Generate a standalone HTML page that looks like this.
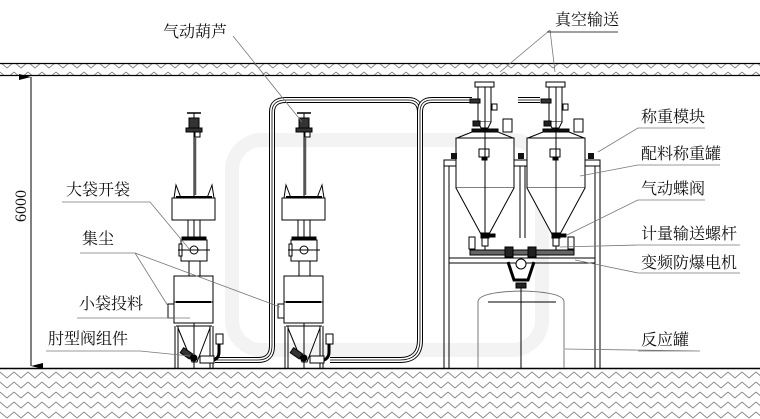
<!DOCTYPE html>
<html><head><meta charset="utf-8"><style>
html,body{margin:0;padding:0;background:#fff;}
svg{display:block}
text{font-family:"Liberation Serif","Noto Serif CJK SC",serif;font-size:16px;fill:#111}
</style></head><body>
<svg width="760" height="419" viewBox="0 0 760 419" xmlns="http://www.w3.org/2000/svg">
<defs>
<pattern id="zz" width="14" height="10" patternUnits="userSpaceOnUse">
<path d="M0 2 L7 8 L14 2" fill="none" stroke="#888" stroke-width="0.9"/>
</pattern>
<marker id="ar" markerWidth="8" markerHeight="12" refX="4" refY="12" orient="auto-start-reverse" markerUnits="userSpaceOnUse">
<path d="M1 0 L4 12 L7 0 Z" fill="#000"/>
</marker>
</defs>
<!-- watermark -->
<g fill="none" stroke="#f3f3f3" stroke-width="14">
<rect x="232" y="140" width="310" height="210" rx="30"/>
</g>
<!-- ceiling band -->
<rect x="0" y="64" width="760" height="11" fill="url(#zz)"/>
<line x1="0" y1="63.5" x2="760" y2="63.5" stroke="#000" stroke-width="1.2"/>
<line x1="0" y1="75.5" x2="760" y2="75.5" stroke="#000" stroke-width="1.2"/>
<!-- ground -->
<rect x="0" y="369" width="760" height="50" fill="url(#zz)"/>
<line x1="0" y1="368.5" x2="760" y2="368.5" stroke="#000" stroke-width="1.4"/>
<!-- dimension -->
<line x1="31" y1="77" x2="31" y2="366" stroke="#000" marker-start="url(#ar)" marker-end="url(#ar)"/>
<text transform="translate(26,222) rotate(-90)" font-size="15">6000</text>

<!-- pipes -->
<g fill="none">
<path id="p1" d="M215 360 H258 Q272 360 272 346 V112 Q272 100 286 100 H408 Q420 100 420 112 V340 Q420 360 400 360 H330"/>
<path id="p2" d="M420 112 Q420 100 432 100 H472"/>
<path id="p3" d="M518 100 H540"/>
</g>
<g fill="none" stroke-linejoin="round">
<use href="#p1" stroke="#000" stroke-width="6"/><use href="#p1" stroke="#fff" stroke-width="4"/><use href="#p1" stroke="#000" stroke-width="0.8"/>
<use href="#p2" stroke="#000" stroke-width="6"/><use href="#p2" stroke="#fff" stroke-width="4"/><use href="#p2" stroke="#000" stroke-width="0.8"/>
<use href="#p3" stroke="#000" stroke-width="6"/><use href="#p3" stroke="#fff" stroke-width="4"/><use href="#p3" stroke="#000" stroke-width="0.8"/>
</g>

<!-- bag station unit -->
<g id="u1" stroke="#000" stroke-width="1" fill="#fff">
<line x1="187" y1="113" x2="201" y2="113" stroke-width="1.5"/>
<line x1="194" y1="113" x2="194" y2="118"/>
<rect x="189" y="118" width="10" height="10" fill="#333"/>
<rect x="186" y="128" width="16" height="4" fill="#333"/>
<rect x="195" y="132" width="5" height="5"/>
<line x1="194" y1="132" x2="194" y2="368" stroke-width="1"/>
<line x1="195.5" y1="137" x2="195.5" y2="195" stroke-width="1.5" stroke="#555"/>
<path d="M174 198 L176 185 L181 198 M185 198 H203 M207 198 L212 185 L214 198" fill="none"/>
<line x1="176" y1="197" x2="212" y2="197" stroke-width="2"/>
<rect x="172" y="198" width="43" height="22"/>
<line x1="188" y1="220" x2="188" y2="238"/><line x1="200" y1="220" x2="200" y2="238"/>
<rect x="182" y="237" width="24" height="3" fill="#000"/>
<rect x="181" y="240" width="26" height="21"/>
<rect x="179" y="244" width="3" height="12"/>
<circle cx="194" cy="250" r="4"/>
<line x1="178" y1="250" x2="210" y2="250"/>
<rect x="189" y="261" width="11" height="15"/>
<rect x="174" y="276" width="39" height="26"/>
<rect x="174" y="302" width="39" height="21"/>
<line x1="176" y1="302" x2="211" y2="302" stroke-width="2"/>
<rect x="168" y="304" width="6" height="14"/>
<line x1="175" y1="326" x2="175" y2="368"/><line x1="178" y1="326" x2="178" y2="368"/>
<line x1="210" y1="326" x2="210" y2="368"/><line x1="213" y1="326" x2="213" y2="368"/>
<path d="M176 326 H212 M178 328 L192 362 H197 L210 328" fill="none"/>
<rect x="181" y="350" width="11" height="6" fill="#333" transform="rotate(35 186 353)"/>
<circle cx="194" cy="358" r="3" fill="#000"/>
<rect x="216" y="334" width="7" height="10"/>
<path d="M219 344 V352 Q219 358 214 360" fill="none" stroke-width="3"/>
<rect x="200" y="356" width="14" height="7"/>
</g>
<use href="#u1" x="110"/>

<!-- right frame -->
<g stroke="#000" fill="none" stroke-width="1">
<line x1="444" y1="160" x2="444" y2="368"/><line x1="449" y1="166" x2="449" y2="368"/>
<line x1="595" y1="166" x2="595" y2="368"/><line x1="600" y1="160" x2="600" y2="368"/>
<rect x="444" y="160" width="156" height="6"/>
<rect x="449" y="258" width="146" height="5"/>
<line x1="520" y1="166" x2="520" y2="238"/><line x1="525" y1="166" x2="525" y2="238"/>
</g>
<!-- tanks -->
<g id="t1" stroke="#000" stroke-width="1" fill="#fff">
<rect x="475" y="82" width="19" height="5"/>
<rect x="478" y="87" width="13" height="35"/>
<rect x="470" y="99" width="10" height="4" fill="#333"/>
<rect x="492" y="104" width="5" height="6"/>
<path d="M478 122 L481 128 H488 L491 122"/>
<rect x="473" y="121" width="7" height="5" fill="#222"/>
<rect x="472" y="129" width="26" height="4" fill="#111"/>
<rect x="503" y="119" width="9" height="13"/>
<path d="M457 138 L472 132 H498 L513 138 Z"/>
<rect x="456" y="138" width="58" height="50"/>
<rect x="479" y="149" width="10" height="8"/>
<rect x="482" y="157" width="5" height="3" fill="#000"/>
<path d="M456 188 L482 236 H488 L514 188" />
<line x1="485" y1="87" x2="485" y2="250"/>
<rect x="481" y="233" width="8" height="5" fill="#000"/>
<rect x="489" y="234" width="6" height="3" fill="#000"/>
<rect x="482" y="238" width="6" height="8"/>
</g>
<use href="#t1" x="71"/>
<rect x="451" y="153" width="6" height="6" fill="#111"/>
<rect x="518" y="153" width="6" height="6" fill="#111"/>
<rect x="588" y="153" width="6" height="6" fill="#111"/>
<!-- screw conveyor -->
<g stroke="#000" fill="#fff" stroke-width="1">
<rect x="469" y="237" width="6" height="12"/><rect x="568" y="237" width="6" height="12"/>
<rect x="470" y="250" width="104" height="5" fill="#666"/>
<rect x="505" y="247" width="8" height="10" fill="#222"/>
<rect x="528" y="247" width="8" height="10" fill="#222"/>
<path d="M508 262 L514 280 H528 L534 262" fill="none" stroke-width="3"/>
<circle cx="521" cy="264" r="5"/>
<rect x="516" y="283" width="10" height="5" fill="#222"/>
<path d="M478 302 Q478 292 521 291 Q564 292 564 302 V368 M478 302 V368" fill="none" stroke="#777"/>
<line x1="488" y1="302" x2="556" y2="302"/>
<line x1="521" y1="288" x2="521" y2="368"/>
</g>

<!-- leaders -->
<g stroke="#777" stroke-width="0.8" fill="none">
<path d="M233 36 L302 122"/>
<path d="M550 30 L500 72 M550 30 L555 72"/>
<path d="M638 128 H705 M638 128 L598 152"/>
<path d="M638 165 H720 M638 165 L580 176"/>
<path d="M638 200 H705 M638 200 L567 235"/>
<path d="M638 245 H740 M638 245 L560 247"/>
<path d="M638 273 H740 M638 273 L575 260"/>
<path d="M638 351 H700 L565 349"/>
<path d="M62 202 H150 L190 250"/>
<path d="M80 253 H135 L168 306 M135 253 L280 307"/>
<path d="M77 318 H190"/>
<path d="M46 351 H140 L190 356"/>
</g>
<g stroke="#000" stroke-width="0.8">
<line x1="547" y1="32" x2="618" y2="32"/>
</g>

<!-- labels -->
<text x="163" y="37">气动葫芦</text>
<text x="555" y="25">真空输送</text>
<text x="641" y="122">称重模块</text>
<text x="641" y="159">配料称重罐</text>
<text x="641" y="194">气动蝶阀</text>
<text x="641" y="239">计量输送螺杆</text>
<text x="641" y="268">变频防爆电机</text>
<text x="641" y="345">反应罐</text>
<text x="66" y="195">大袋开袋</text>
<text x="82" y="244">集尘</text>
<text x="79" y="309">小袋投料</text>
<text x="48" y="344">肘型阀组件</text>
</svg>
</body></html>
